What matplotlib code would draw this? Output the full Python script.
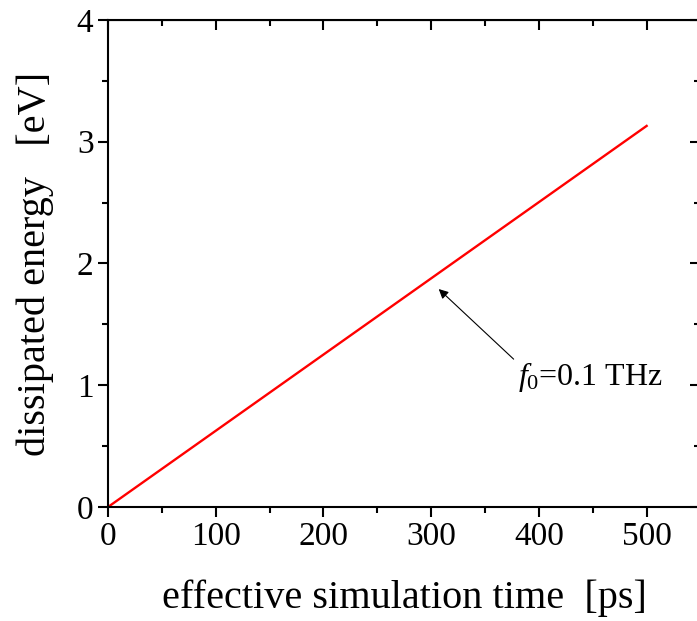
import matplotlib
matplotlib.use("Agg")
import matplotlib.pyplot as plt
from matplotlib.ticker import MultipleLocator

plt.rcParams["font.family"] = ["Liberation Serif", "DejaVu Serif"]
plt.rcParams["mathtext.fontset"] = "custom"
plt.rcParams["mathtext.rm"] = "Liberation Serif"
plt.rcParams["mathtext.it"] = "Liberation Serif:italic"

# data
time_ps = [0, 50, 100, 150, 200, 250, 300, 350, 400, 450, 500]
energy_ev = [0.0, 0.313, 0.626, 0.939, 1.252, 1.565, 1.878, 2.191, 2.504, 2.817, 3.13]
x_ticks = [0, 100, 200, 300, 400, 500]
y_ticks = [0, 1, 2, 3, 4]

fig = plt.figure(figsize=(6.97, 6.21), dpi=100)
ax = fig.add_axes([0.155, 0.1836, 0.85, 0.7842])

ax.plot(time_ps, energy_ev, color="red", lw=1.7)

ax.set_xlim(0, 550)
ax.set_ylim(0, 4)
ax.set_xticks(x_ticks)
ax.set_yticks(y_ticks)
ax.xaxis.set_minor_locator(MultipleLocator(50))
ax.yaxis.set_minor_locator(MultipleLocator(0.5))

for s in ax.spines.values():
    s.set_linewidth(1.5)

ax.tick_params(which="both", direction="out", top=False, right=False, width=1.5, labelsize=24)
ax.tick_params(which="major", length=7)
ax.tick_params(which="minor", length=4)
# inward ticks on the top and right edges
sec_x = ax.secondary_xaxis("top")
sec_x.set_xticks(x_ticks)
sec_x.xaxis.set_minor_locator(MultipleLocator(50))
sec_x.tick_params(which="both", direction="in", labeltop=False, width=1.5)
sec_x.tick_params(which="major", length=7)
sec_x.tick_params(which="minor", length=4)
sec_y = ax.secondary_yaxis("right")
sec_y.set_yticks(y_ticks)
sec_y.yaxis.set_minor_locator(MultipleLocator(0.5))
sec_y.tick_params(which="both", direction="in", labelright=False, width=1.5)
sec_y.tick_params(which="major", length=7)
sec_y.tick_params(which="minor", length=4)

ax.set_xlabel("effective simulation time  [ps]", fontsize=29, labelpad=20)
ax.set_ylabel("dissipated energy   [eV]", fontsize=29, labelpad=16)

ax.annotate(r"$\mathit{f}_\mathit{0}$=0.1 THz", xy=(307, 1.79), xytext=(381, 1.0),
            fontsize=23, ha="left", va="baseline",
            arrowprops=dict(arrowstyle="-|>", color="black", lw=0.8, shrinkA=2, shrinkB=0,
                            mutation_scale=14, relpos=(0, 0.9)))

fig.savefig("out.png", dpi=100)
